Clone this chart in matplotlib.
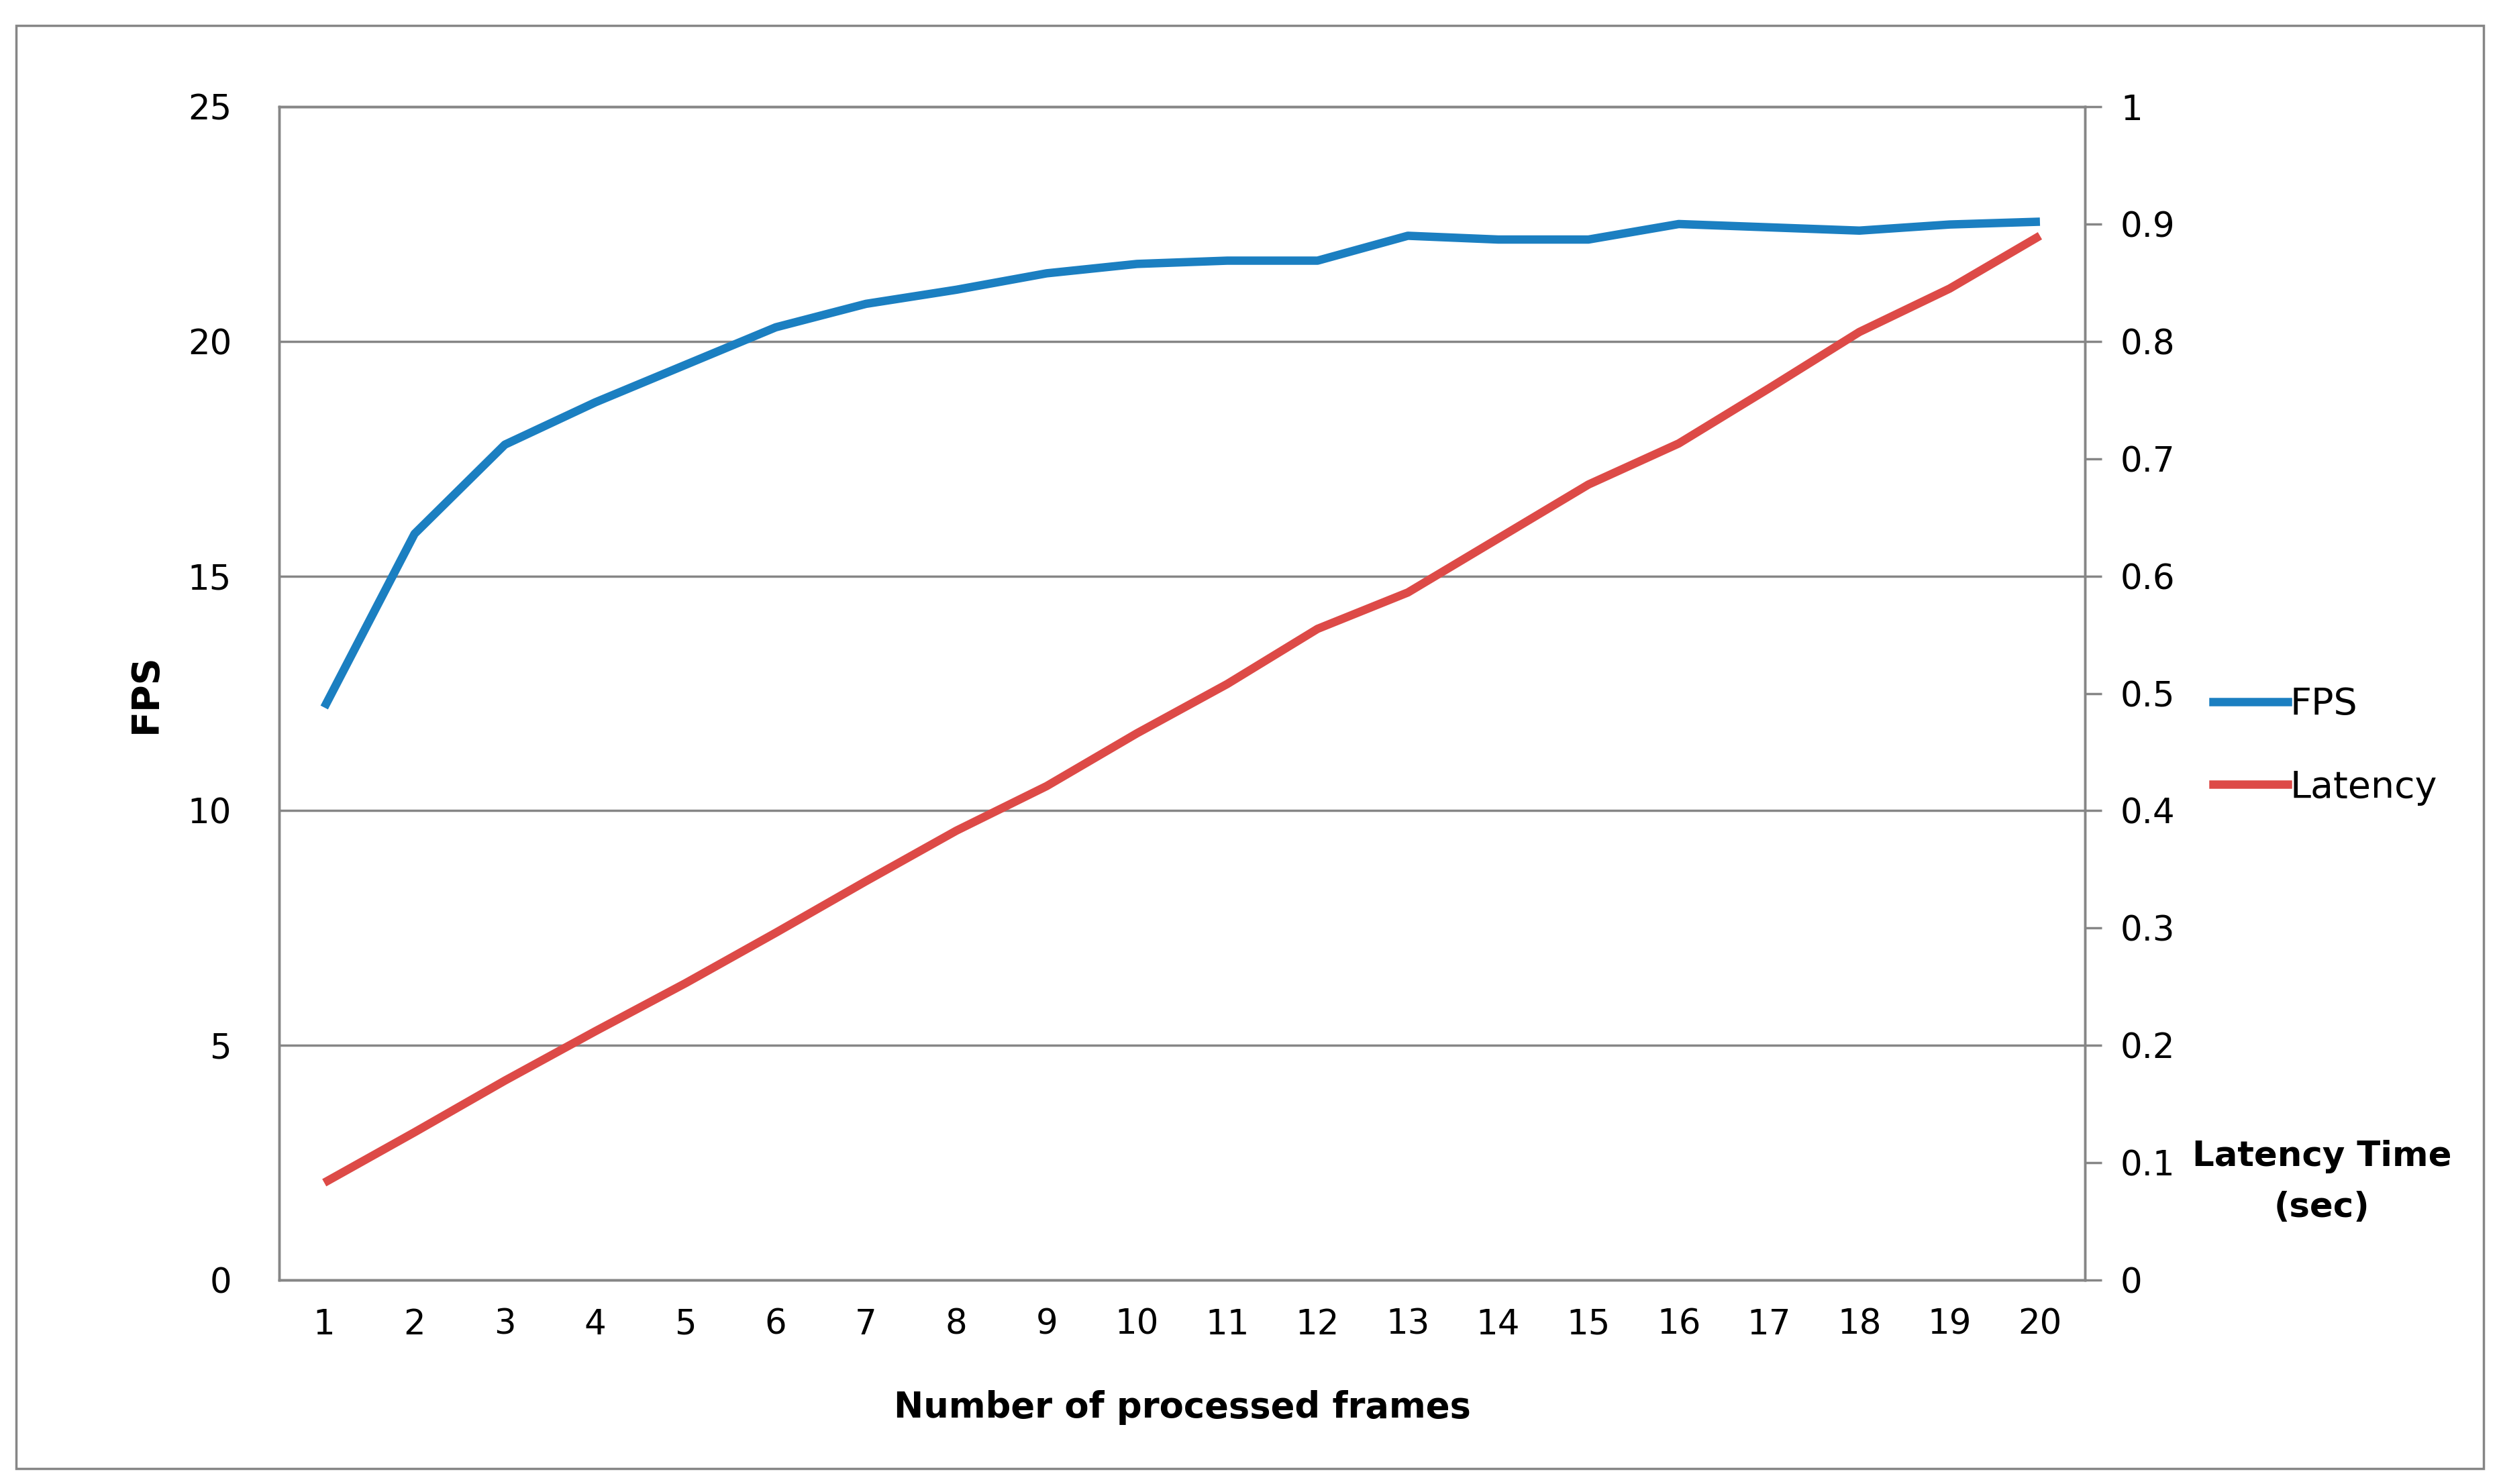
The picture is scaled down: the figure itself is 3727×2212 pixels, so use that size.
import matplotlib
matplotlib.use("Agg")
import matplotlib.pyplot as plt
from matplotlib.patches import Rectangle
from matplotlib.lines import Line2D

frames = list(range(1, 21))
fps = [12.2, 15.9, 17.8, 18.7, 19.5, 20.3, 20.8, 21.1, 21.45, 21.65,
       21.72, 21.72, 22.25, 22.17, 22.17, 22.5, 22.43, 22.36, 22.49, 22.55]
latency = [0.083, 0.126, 0.170, 0.212, 0.253, 0.296, 0.340, 0.383, 0.421, 0.466,
           0.508, 0.555, 0.586, 0.632, 0.678, 0.713, 0.760, 0.808, 0.845, 0.890]
fps_ticks = [0, 5, 10, 15, 20, 25]
lat_ticks = [0, 0.1, 0.2, 0.3, 0.4, 0.5, 0.6, 0.7, 0.8, 0.9, 1]
lat_labels = ["0", "0.1", "0.2", "0.3", "0.4", "0.5", "0.6", "0.7", "0.8", "0.9", "1"]

GRAY = "#868686"
BLUE = "#1B7FC1"
RED = "#DD4A47"
FS = 37

plt.rcParams['font.family'] = ['DejaVu Sans']
fig = plt.figure(figsize=(37.27, 22.12), dpi=100)
fig.patches.append(Rectangle((24 / 3727, 1 - 2189 / 2212), (3701 - 24) / 3727, (2189 - 38) / 2212,
                             transform=fig.transFigure, fill=False, edgecolor=GRAY, linewidth=2.5))

ax = fig.add_axes([0.1116, 0.1374, 0.8337 - 0.1116, 0.9281 - 0.1374])
ax2 = ax.twinx()

ax.plot(frames, fps, color=BLUE, linewidth=9, solid_capstyle='butt', zorder=3)
ax2.plot(frames, latency, color=RED, linewidth=9, solid_capstyle='butt', zorder=3)

ax.set_xlim(0.5, 20.5)
ax.set_ylim(0, 25)
ax2.set_ylim(0, 1)
ax.set_xticks(frames)
ax.set_xticklabels([str(f) for f in frames], fontsize=FS)
ax.set_yticks(fps_ticks)
ax.set_yticklabels([str(t) for t in fps_ticks], fontsize=FS)
ax2.set_yticks(lat_ticks)
ax2.set_yticklabels(lat_labels, fontsize=FS)

ax.tick_params(axis='x', length=0, pad=30)
ax.tick_params(axis='y', length=0, pad=51)
ax2.tick_params(axis='y', length=18, width=2.5, color=GRAY, pad=20)

ax.yaxis.grid(True, color=GRAY, linewidth=2.5)
ax.set_axisbelow(True)
for a in (ax, ax2):
    for s in a.spines.values():
        s.set_color(GRAY)
        s.set_linewidth(2.5)

ax.set_ylabel("FPS", fontsize=40, fontweight='bold', labelpad=26)
ax.set_xlabel("Number of processed frames", fontsize=38, fontweight='bold', labelpad=52)

fig.text(3460 / 3727, 1 - 1762 / 2212, "Latency Time\n(sec)", fontsize=37, fontweight='bold',
         ha='center', va='center', linespacing=1.65)

handles = [Line2D([], [], color=BLUE, linewidth=9), Line2D([], [], color=RED, linewidth=9)]
fig.legend(handles, ["FPS", "Latency"], loc='center left',
           bbox_to_anchor=(3276 / 3727, 1 - 1112 / 2212), frameon=False, fontsize=40,
           handlelength=2.0, handletextpad=0.05, labelspacing=1.25, borderaxespad=0)

fig.savefig("out.png", dpi=100)
